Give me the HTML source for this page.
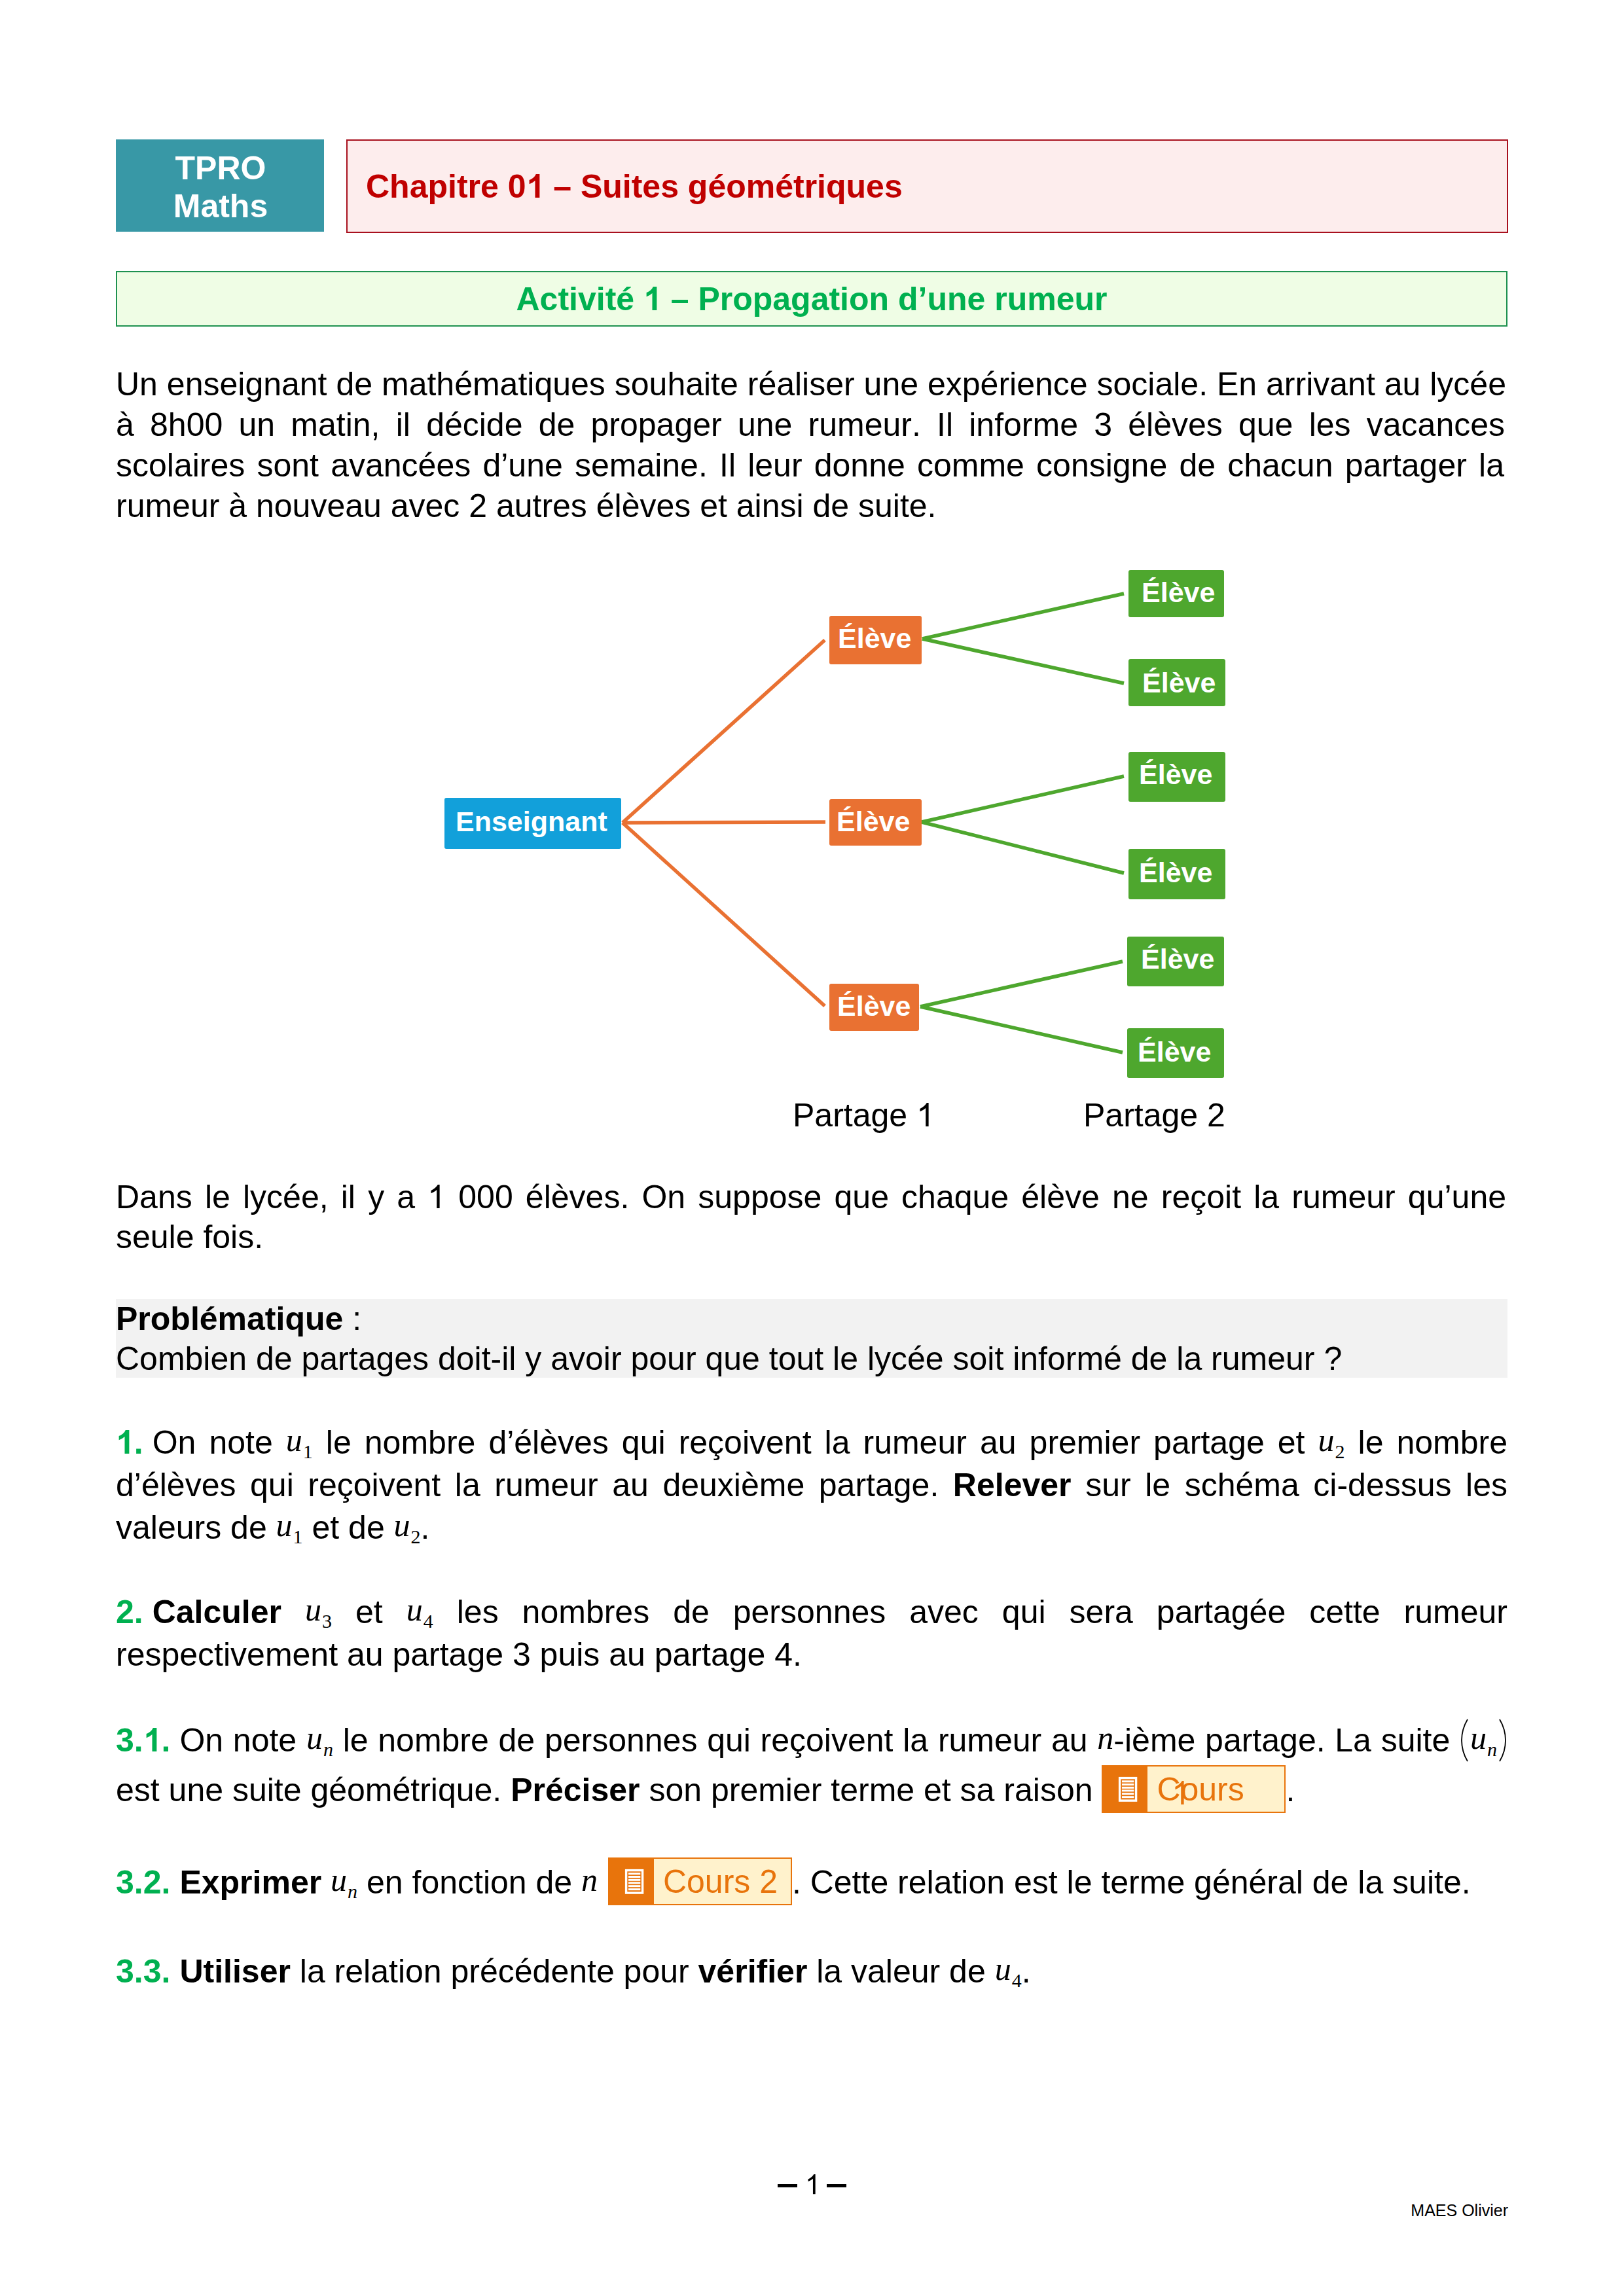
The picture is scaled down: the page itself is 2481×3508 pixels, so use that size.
<!DOCTYPE html>
<html><head><meta charset="utf-8">
<style>
html,body{margin:0;padding:0;background:#fff;}
body{width:2481px;height:3508px;position:relative;overflow:hidden;font-kerning:none;font-family:"Liberation Sans",sans-serif;color:#000;}
.a{position:absolute;}
.l{position:absolute;left:177px;width:2126px;font-size:50px;line-height:56px;white-space:nowrap;}
.j{text-align:justify;text-align-last:justify;white-space:normal;}
.b{font-weight:bold;}
.g{color:#00B050;font-weight:bold;}
.m{font-family:"Liberation Serif",serif;font-style:italic;font-size:50px;line-height:0;position:relative;top:-4px;}
.s{font-family:"Liberation Serif",serif;font-style:normal;font-size:30px;line-height:0;vertical-align:-7px;margin-left:1px;}
.si{font-style:italic;}
.sp{display:inline-block;width:14px;}
.pr{display:inline-block;width:16px;height:10px;position:relative;}
.pr svg{position:absolute;top:-40px;left:0;}
.cours{display:inline-block;position:relative;width:281px;height:10px;}
.cours .bx{position:absolute;left:0;top:-45px;width:281px;height:73px;box-sizing:border-box;border:2px solid #E8740C;background:#FFF2CC;}
.cours .or{position:absolute;left:-2px;top:-2px;width:70px;height:73px;background:#E8740C;}
.cours svg{position:absolute;left:23px;top:15px;}
.cours .tx{position:absolute;left:82px;top:7px;line-height:56px;color:#E8740C;white-space:nowrap;}
.o1{display:inline-block;width:0.5562em;height:0.7188em;vertical-align:baseline;overflow:visible;fill:currentColor;}
.node{position:absolute;border-radius:3px;color:#fff;font-weight:bold;font-size:43px;line-height:48px;white-space:nowrap;}
.node span{position:absolute;}
</style></head><body>

<!-- header -->
<div class="a" style="left:177px;top:213px;width:318px;height:141px;background:#3898A6;"></div>
<div class="a b" style="left:178px;top:228px;width:318px;text-align:center;color:#fff;font-size:50px;line-height:58px;">TPRO<br>Maths</div>
<div class="a" style="left:529px;top:213px;width:1771px;height:139px;background:#FDEDED;border:2px solid #A8101E;"></div>
<div class="a b" style="left:559px;top:257px;font-size:50px;line-height:56px;color:#C00000;white-space:nowrap;">Chapitre 0<svg class="o1" viewBox="0 0 1139 1472"><path transform="matrix(1 0 0 -1 0 1472)" d="M834 0L553 0L553 1059Q399 915 190 847L190 1102Q300 1138 429 1238Q558 1338 606 1472L834 1472Z"/></svg> – Suites géométriques</div>

<div class="a" style="left:177px;top:414px;width:2122px;height:81px;background:#EFFDE5;border:2px solid #1E9150;"></div>
<div class="a b" style="left:177px;top:429px;width:2126px;text-align:center;font-size:50px;line-height:56px;color:#00B050;white-space:nowrap;">Activité <svg class="o1" viewBox="0 0 1139 1472"><path transform="matrix(1 0 0 -1 0 1472)" d="M834 0L553 0L553 1059Q399 915 190 847L190 1102Q300 1138 429 1238Q558 1338 606 1472L834 1472Z"/></svg> – Propagation d’une rumeur</div>

<!-- paragraph 1 -->
<div class="l j" style="top:559px;width:2124px;">Un enseignant de mathématiques souhaite réaliser une expérience sociale. En arrivant au lycée</div>
<div class="l j" style="top:621px;width:2122px;">à 8h00 un matin, il décide de propager une rumeur. Il informe 3 élèves que les vacances</div>
<div class="l j" style="top:683px;width:2121px;">scolaires sont avancées d’une semaine. Il leur donne comme consigne de chacun partager la</div>
<div class="l" style="top:745px;">rumeur à nouveau avec 2 autres élèves et ainsi de suite.</div>

<!-- diagram -->
<svg class="a" style="left:0;top:0;" width="2481" height="3508">
<g stroke="#E97132" stroke-width="5.5" fill="none">
<line x1="951" y1="1257" x2="1260" y2="978"/>
<line x1="951" y1="1257" x2="1261" y2="1256"/>
<line x1="951" y1="1257" x2="1260" y2="1537"/>
</g>
<g stroke="#4EA72E" stroke-width="5.5" fill="none">
<line x1="1409" y1="976" x2="1717" y2="907"/>
<line x1="1409" y1="976" x2="1717" y2="1044"/>
<line x1="1408" y1="1256" x2="1717" y2="1186"/>
<line x1="1408" y1="1256" x2="1717" y2="1334"/>
<line x1="1406" y1="1538" x2="1715" y2="1469"/>
<line x1="1406" y1="1538" x2="1715" y2="1608"/>
</g>
</svg>
<div class="node" style="left:679px;top:1219px;width:270px;height:78px;background:#12A0DA;"><span style="left:17px;top:12px;">Enseignant</span></div>
<div class="node" style="left:1267px;top:941px;width:141px;height:74px;background:#E97132;"><span style="left:13px;top:10px;">Élève</span></div>
<div class="node" style="left:1267px;top:1221px;width:141px;height:71px;background:#E97132;"><span style="left:11px;top:10px;">Élève</span></div>
<div class="node" style="left:1267px;top:1503px;width:137px;height:72px;background:#E97132;"><span style="left:12px;top:10px;">Élève</span></div>
<div class="node" style="left:1724px;top:871px;width:146px;height:72px;background:#4EA72E;"><span style="left:20px;top:10px;">Élève</span></div>
<div class="node" style="left:1724px;top:1007px;width:148px;height:72px;background:#4EA72E;"><span style="left:21px;top:12px;">Élève</span></div>
<div class="node" style="left:1724px;top:1149px;width:148px;height:76px;background:#4EA72E;"><span style="left:16px;top:10px;">Élève</span></div>
<div class="node" style="left:1724px;top:1297px;width:148px;height:77px;background:#4EA72E;"><span style="left:16px;top:12px;">Élève</span></div>
<div class="node" style="left:1722px;top:1431px;width:148px;height:76px;background:#4EA72E;"><span style="left:21px;top:10px;">Élève</span></div>
<div class="node" style="left:1722px;top:1571px;width:148px;height:76px;background:#4EA72E;"><span style="left:16px;top:12px;">Élève</span></div>

<div class="a" style="left:1211px;top:1676px;font-size:50px;line-height:56px;white-space:nowrap;">Partage <svg class="o1" viewBox="0 0 1139 1472"><path transform="matrix(1 0 0 -1 0 1472)" d="M763 0L583 0L583 1147Q518 1085 412.5 1023Q307 961 223 930L223 1104Q374 1175 487 1276Q600 1377 647 1472L763 1472Z"/></svg></div>
<div class="a" style="left:1655px;top:1676px;font-size:50px;line-height:56px;white-space:nowrap;">Partage 2</div>

<!-- paragraph 2 -->
<div class="l j" style="top:1801px;width:2124px;">Dans le lycée, il y a <svg class="o1" viewBox="0 0 1139 1472"><path transform="matrix(1 0 0 -1 0 1472)" d="M763 0L583 0L583 1147Q518 1085 412.5 1023Q307 961 223 930L223 1104Q374 1175 487 1276Q600 1377 647 1472L763 1472Z"/></svg> 000 élèves. On suppose que chaque élève ne reçoit la rumeur qu’une</div>
<div class="l" style="top:1862px;">seule fois.</div>

<div class="a" style="left:177px;top:1985px;width:2126px;height:120px;background:#F2F2F2;"></div>
<div class="l" style="top:1987px;"><span class="b">Problématique</span> :</div>
<div class="l" style="top:2048px;">Combien de partages doit-il y avoir pour que tout le lycée soit informé de la rumeur ?</div>


<!-- questions -->
<div class="l j" style="top:2176px;"><span class="g"><svg class="o1" viewBox="0 0 1139 1472"><path transform="matrix(1 0 0 -1 0 1472)" d="M834 0L553 0L553 1059Q399 915 190 847L190 1102Q300 1138 429 1238Q558 1338 606 1472L834 1472Z"/></svg>.</span><i class="sp"></i>On note <span class="m">u</span><span class="s">1</span> le nombre d’élèves qui reçoivent la rumeur au premier partage et <span class="m">u</span><span class="s">2</span> le nombre</div>
<div class="l j" style="top:2241px;">d’élèves qui reçoivent la rumeur au deuxième partage. <span class="b">Relever</span> sur le schéma ci-dessus les</div>
<div class="l" style="top:2306px;">valeurs de <span class="m">u</span><span class="s">1</span> et de <span class="m">u</span><span class="s">2</span>.</div>

<div class="l j" style="top:2435px;"><span class="g">2.</span><i class="sp"></i><span class="b">Calculer</span> <span class="m">u</span><span class="s">3</span> et <span class="m">u</span><span class="s">4</span> les nombres de personnes avec qui sera partagée cette rumeur</div>
<div class="l" style="top:2500px;">respectivement au partage 3 puis au partage 4.</div>

<div class="l j" style="top:2631px;"><span class="g">3.<svg class="o1" viewBox="0 0 1139 1472"><path transform="matrix(1 0 0 -1 0 1472)" d="M834 0L553 0L553 1059Q399 915 190 847L190 1102Q300 1138 429 1238Q558 1338 606 1472L834 1472Z"/></svg>.</span><i class="sp"></i>On note <span class="m">u</span><span class="s si">n</span> le nombre de personnes qui reçoivent la rumeur au <span class="m">n</span>-ième partage. La suite <span class="pr"><svg width="16" height="66" viewBox="0 0 16 66"><path d="M12 1 Q3 16 3 33 Q3 50 12 65" stroke="#000" stroke-width="1.8" fill="none"/></svg></span><span class="m">u</span><span class="s si">n</span><span class="pr"><svg width="16" height="66" viewBox="0 0 16 66"><path d="M4 1 Q13 16 13 33 Q13 50 4 65" stroke="#000" stroke-width="1.8" fill="none"/></svg></span></div>
<div class="l" style="top:2707px;">est une suite géométrique. <span class="b">Préciser</span> son premier terme et sa raison <span class="cours"><span class="bx"><span class="or"></span><svg width="30" height="40" viewBox="0 0 30 40"><rect x="2.6" y="2.6" width="25" height="34.5" fill="none" stroke="#fff" stroke-width="3.4"/><g fill="#fff"><rect x="6" y="6.3" width="18.3" height="3"/><rect x="6" y="11" width="18.3" height="3"/><rect x="6" y="15.8" width="18.3" height="3"/><rect x="6" y="20.4" width="18.3" height="3"/><rect x="6" y="25.2" width="18.3" height="3"/><rect x="6" y="30.2" width="18.3" height="3"/></g></svg><span class="tx">Cours <svg class="o1" viewBox="0 0 1139 1472"><path transform="matrix(1 0 0 -1 0 1472)" d="M763 0L583 0L583 1147Q518 1085 412.5 1023Q307 961 223 930L223 1104Q374 1175 487 1276Q600 1377 647 1472L763 1472Z"/></svg></span></span></span>.</div>

<div class="l" style="top:2848px;"><span class="g">3.2.</span><i class="sp"></i><span class="b">Exprimer</span> <span class="m">u</span><span class="s si">n</span> en fonction de <span class="m">n</span> <span class="cours" style="margin-left:2px"><span class="bx"><span class="or"></span><svg width="30" height="40" viewBox="0 0 30 40"><rect x="2.6" y="2.6" width="25" height="34.5" fill="none" stroke="#fff" stroke-width="3.4"/><g fill="#fff"><rect x="6" y="6.3" width="18.3" height="3"/><rect x="6" y="11" width="18.3" height="3"/><rect x="6" y="15.8" width="18.3" height="3"/><rect x="6" y="20.4" width="18.3" height="3"/><rect x="6" y="25.2" width="18.3" height="3"/><rect x="6" y="30.2" width="18.3" height="3"/></g></svg><span class="tx">Cours 2</span></span></span>. Cette relation est le terme général de la suite.</div>

<div class="l" style="top:2984px;"><span class="g">3.3.</span><i class="sp"></i><span class="b">Utiliser</span> la relation précédente pour <span class="b">vérifier</span> la valeur de <span class="m">u</span><span class="s">4</span>.</div>

<!-- footer -->
<div class="a" style="left:1188px;top:3337px;width:30px;height:5px;background:#000;"></div>
<div class="a" style="left:1230px;top:3315px;font-size:42px;line-height:46px;"><svg class="o1" viewBox="0 0 1139 1472"><path transform="matrix(1 0 0 -1 0 1472)" d="M763 0L583 0L583 1147Q518 1085 412.5 1023Q307 961 223 930L223 1104Q374 1175 487 1276Q600 1377 647 1472L763 1472Z"/></svg></div>
<div class="a" style="left:1263px;top:3337px;width:30px;height:5px;background:#000;"></div>
<div class="a" style="right:177px;top:3363px;font-size:25px;line-height:28px;white-space:nowrap;">MAES Olivier</div>
</body></html>
